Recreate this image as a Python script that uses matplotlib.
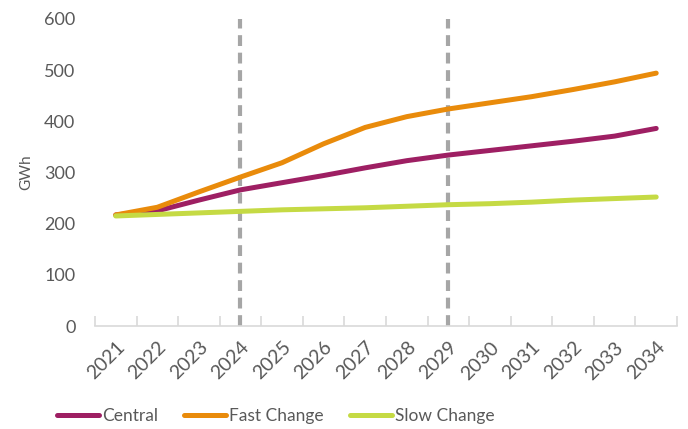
import numpy as np
import matplotlib
matplotlib.use("Agg")
import matplotlib.pyplot as plt

plt.rcParams['font.family'] = ['Lato', 'DejaVu Sans']

years = [str(y) for y in range(2021, 2035)]
central = [217, 225, 246, 266, 280, 294, 309, 323, 334, 343, 352, 361, 371, 386]
fast_change = [217, 232, 262, 291, 319, 356, 388, 409, 424, 436, 448, 462, 477, 494]
slow_change = [215, 218, 221, 224, 227, 229, 231, 234, 237, 239, 242, 246, 249, 252]
marker_years = ['2024', '2029']

series = [
    ('Central', central, '#9e1f63'),
    ('Fast Change', fast_change, '#e98b0b'),
    ('Slow Change', slow_change, '#c5da44'),
]

fig = plt.figure(figsize=(6.88, 4.29), dpi=100)
ax = fig.add_axes([0.138, 0.240, 0.846, 0.716])

x = np.arange(len(years))
for yr in marker_years:
    ax.axvline(years.index(yr), color='#a6a6a6', lw=3, ls=(0, (2.6, 1.6)),
               ymin=0, ymax=1, zorder=1)

for name, vals, col in series:
    ax.plot(x, vals, color=col, lw=3.6, solid_capstyle='round', label=name, zorder=3)

ax.set_xlim(-0.5, len(years) - 0.5)
ax.set_ylim(0, 600)
ax.set_yticks(range(0, 601, 100))
ax.tick_params(axis='y', length=0, labelsize=13, labelcolor='#595959', pad=14)

ax.set_xticks(x)
ax.set_xticklabels(years, rotation=45, ha='right', rotation_mode='anchor')
ax.set_xticks(np.arange(-0.5, len(years)), minor=True)
ax.tick_params(axis='x', which='major', length=0, labelsize=14,
               labelcolor='#595959', pad=9)
ax.tick_params(axis='x', which='minor', direction='in', length=7,
               color='#d9d9d9', width=1.2)

for side in ['left', 'right', 'top']:
    ax.spines[side].set_visible(False)
ax.spines['bottom'].set_color('#d9d9d9')
ax.spines['bottom'].set_linewidth(1.2)

ax.set_ylabel('GWh', fontsize=11, color='#595959', labelpad=8)

leg = fig.legend(loc='lower left', bbox_to_anchor=(0.083, 0.012), ncol=3,
                 frameon=False, fontsize=12.5, handlelength=2.4, handletextpad=0.2,
                 columnspacing=1.5, borderpad=0, borderaxespad=0)
for t in leg.get_texts():
    t.set_color('#595959')

fig.savefig('out.png', dpi=100)
